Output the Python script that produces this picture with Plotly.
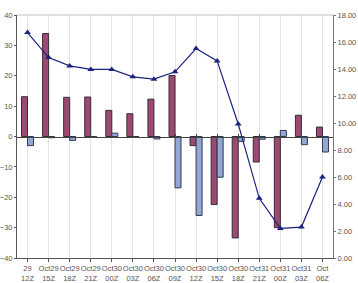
import plotly.graph_objects as go

dates = ["29", "Oct29", "Oct29", "Oct29", "Oct30", "Oct30", "Oct30", "Oct30",
         "Oct30", "Oct30", "Oct30", "Oct31", "Oct31", "Oct31", "Oct"]
hours = ["12Z", "15Z", "18Z", "21Z", "00Z", "03Z", "06Z", "09Z",
         "12Z", "15Z", "18Z", "21Z", "00Z", "03Z", "06Z"]
series_a = [13.1, 33.9, 12.9, 13.0, 8.6, 7.5, 12.3, 20.1,
            -3.0, -22.4, -33.4, -8.4, -30.0, 7.0, 3.1]
series_b = [-3.0, -0.4, -1.3, 0.0, 1.1, 0.0, -0.8, -16.9,
            -26.0, -13.4, -1.6, -0.9, 2.0, -2.7, -5.1]
line_vals = [16.70, 14.85, 14.23, 13.97, 13.97, 13.42, 13.25, 13.79,
             15.52, 14.60, 9.93, 4.42, 2.19, 2.29, 6.00]

cats = list(range(len(hours)))
ticktext = [f"{d}<br>{h}" for d, h in zip(dates, hours)]

fig = go.Figure()
fig.add_trace(go.Bar(x=cats, y=series_a, marker=dict(color="#9c4a73", line=dict(color="#3a2a33", width=1)), name="A"))
fig.add_trace(go.Bar(x=cats, y=series_b, marker=dict(color="#94a6d6", line=dict(color="#2f3a4f", width=1)), name="B"))
fig.add_trace(go.Scatter(x=cats, y=line_vals, yaxis="y2", mode="lines+markers",
                         line=dict(color="#1a237e", width=1.2),
                         marker=dict(symbol="triangle-up", size=6, color="#1a237e"), name="C"))
# invisible trace for the zero-crossing category axis
fig.add_trace(go.Scatter(x=cats, y=[0]*len(cats), xaxis="x2", mode="markers",
                         marker=dict(opacity=0), hoverinfo="skip", showlegend=False))

font = dict(family="Liberation Sans, Arial, sans-serif", size=7.5, color="#555")
fig.update_layout(
    width=358, height=283,
    margin=dict(l=17, r=25, t=15, b=25),
    paper_bgcolor="white", plot_bgcolor="white",
    showlegend=False, barmode="group", bargap=0.43, bargroupgap=0,
    font=font,
    xaxis=dict(tickmode="array", tickvals=cats, ticktext=ticktext, tickangle=0,
               automargin=False,
               range=[-0.5, len(cats) - 0.5], showgrid=True, gridcolor="#e4e4e4",
               tickson="boundaries", ticks="outside", ticklen=3, tickcolor="#555",
               showline=True, linecolor="#555", linewidth=1, mirror=False,
               tickfont=dict(size=7.5, color="#555"), zeroline=False),
    xaxis2=dict(overlaying="x", anchor="free", position=0.5, matches="x",
                automargin=False,
                range=[-0.5, len(cats) - 0.5], tickmode="array", tickvals=cats,
                showticklabels=False, tickson="boundaries", ticks="inside", ticklen=3,
                tickcolor="#444", showline=True, linecolor="#444", linewidth=1,
                showgrid=False, zeroline=False),
    yaxis=dict(range=[-40, 40], dtick=10, showgrid=False, zeroline=False,
               automargin=False,
               showline=True, linecolor="#555", linewidth=1, ticks="outside",
               ticklen=2, tickcolor="#555", tickfont=dict(size=7.5, color="#555")),
    yaxis2=dict(range=[0, 18], dtick=2, overlaying="y", side="right", tickformat=".2f",
                automargin=False,
                showgrid=False, zeroline=False, showline=True, linecolor="#777",
                linewidth=1, ticks="outside", ticklen=2, tickcolor="#777",
                tickfont=dict(size=7.5, color="#555")),
    shapes=[dict(type="line", xref="paper", yref="paper", x0=0, x1=1, y0=1, y1=1,
                 line=dict(color="#b8c4c4", width=1))],
)

fig.write_html("out.html")
